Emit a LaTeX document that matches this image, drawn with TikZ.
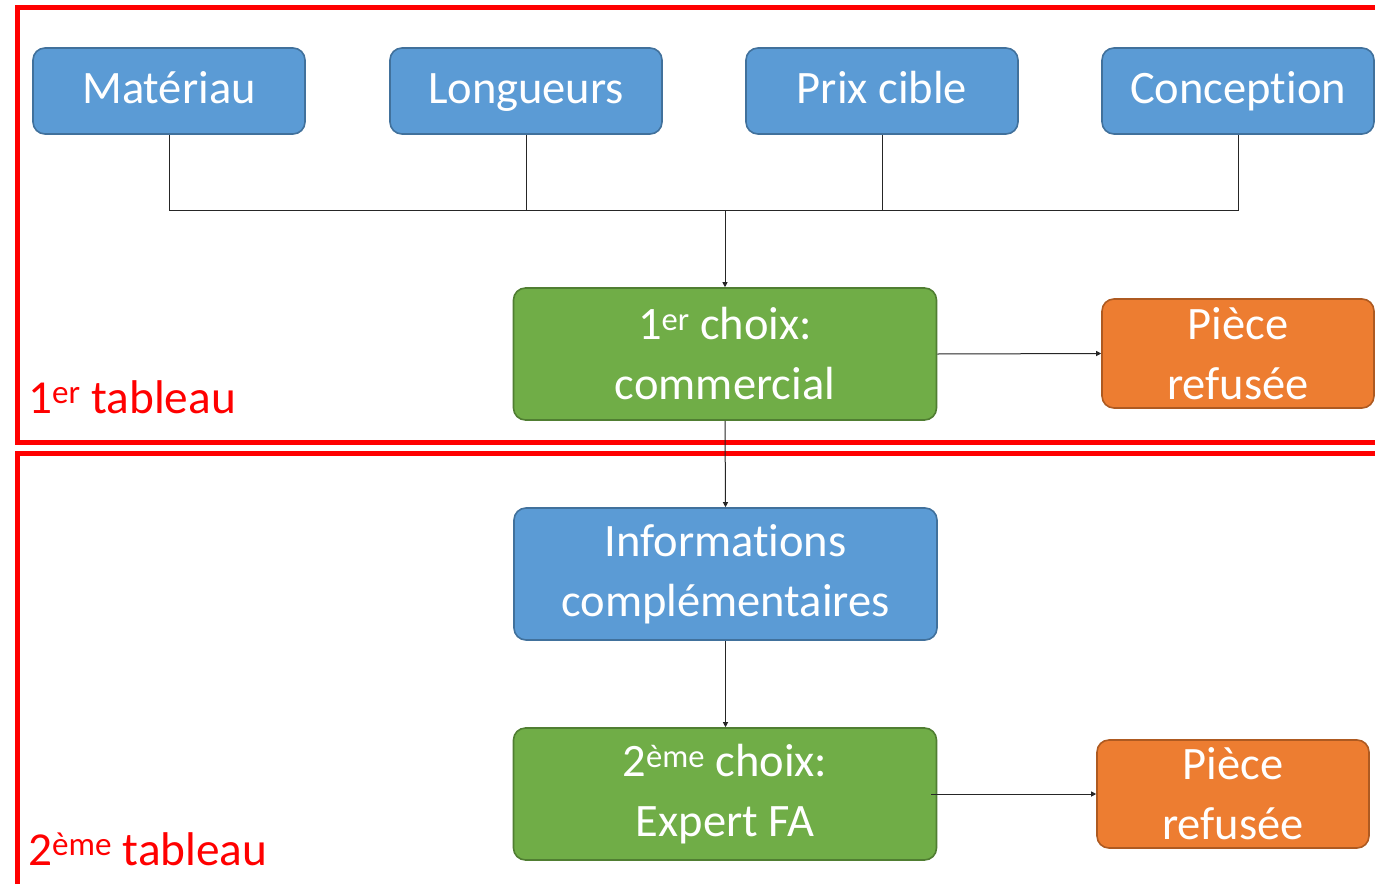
\documentclass[tikz,border=0pt]{standalone}
\usepackage{fontspec}
\setmainfont{Carlito}[Ligatures={NoCommon,NoContextual}, Contextuals=NoAlternate, RawFeature={-liga;-clig;-calt;-dlig}]
\usetikzlibrary{arrows.meta}
\definecolor{bluefill}{HTML}{5B9BD5}
\definecolor{blueedge}{HTML}{41719C}
\definecolor{greenfill}{HTML}{70AD47}
\definecolor{greenedge}{HTML}{507E32}
\definecolor{orangefill}{HTML}{ED7D31}
\definecolor{orangeedge}{HTML}{AE5A21}
\definecolor{framered}{HTML}{FF0000}
\tikzset{
  boxbase/.style={rectangle, rounded corners=12pt, line width=1.6pt, inner sep=0pt,
    text=white, align=center, font=\fontsize{46.5}{60}\selectfont},
  bluebox/.style={boxbase, fill=bluefill, draw=blueedge},
  topbox/.style={bluebox, minimum width=272pt, minimum height=86pt, text height=33pt, text depth=8pt},
  greenbox/.style={boxbase, fill=greenfill, draw=greenedge},
  orangebox/.style={boxbase, fill=orangefill, draw=orangeedge},
  frame/.style={draw=framered, line width=5pt},
  framelabel/.style={text=framered, anchor=base west, inner sep=0pt, font=\fontsize{47.3}{56}\selectfont},
  link/.style={draw=black!85, line width=1pt},
  arr/.style={link, -{Triangle[length=5pt,width=5pt]}}
}
\begin{document}
\begin{tikzpicture}[x=1pt,y=-1pt]
\clip (0,0) rectangle (1375,883);
\fill[white] (0,0) rectangle (1375,883);
% frames
\draw[frame] (1400,7.5) -- (17.5,7.5) -- (17.5,442) -- (1400,442);
\draw[frame] (1400,453) -- (17.5,453) -- (17.5,900);
\node[framelabel] (lab1) at (28,413) {1\textsuperscript{er} tableau};
\node[framelabel] (lab2) at (28,865) {2\textsuperscript{ème} tableau};
% top row
\node[topbox] (mat) at (169,91) {Matériau};
\node[topbox] (lon) at (526,91) {Longueurs};
\node[topbox] (prix) at (882,91) {Prix cible};
\node[topbox] (conc) at (1238,91) {Conception};
% middle
\node[greenbox, minimum width=423pt, minimum height=132pt] (c1) at (725,354) {1\textsuperscript{er} choix:\\commercial};
\node[orangebox, minimum width=272pt, minimum height=109pt] (r1) at (1238,353.5) {Pièce\\refusée};
\node[bluebox, minimum width=423pt, minimum height=132pt] (info) at (725.5,574) {Informations\\complémentaires};
\node[greenbox, minimum width=423pt, minimum height=132pt] (c2) at (725,794) {2\textsuperscript{ème} choix:\\Expert FA};
\node[orangebox, minimum width=272pt, minimum height=108pt] (r2) at (1233,794) {Pièce\\refusée};
% connectors
\coordinate (hub) at (725,210.5);
\draw[link] (mat.south) |- (hub);
\draw[link] (conc.south) |- (hub);
\draw[link] (lon.south) -- (lon.south |- hub);
\draw[link] (prix.south) -- (prix.south |- hub);
\draw[arr] (hub) -- (c1.north);
\draw[arr] (c1.east) -- (r1.west);
\draw[arr] (c1.south) -- (info.north);
\draw[arr] (info.south) -- ([xshift=0.5pt]c2.north);
\draw[arr] ([xshift=-6pt]c2.east) -- (r2.west);
\end{tikzpicture}
\end{document}
